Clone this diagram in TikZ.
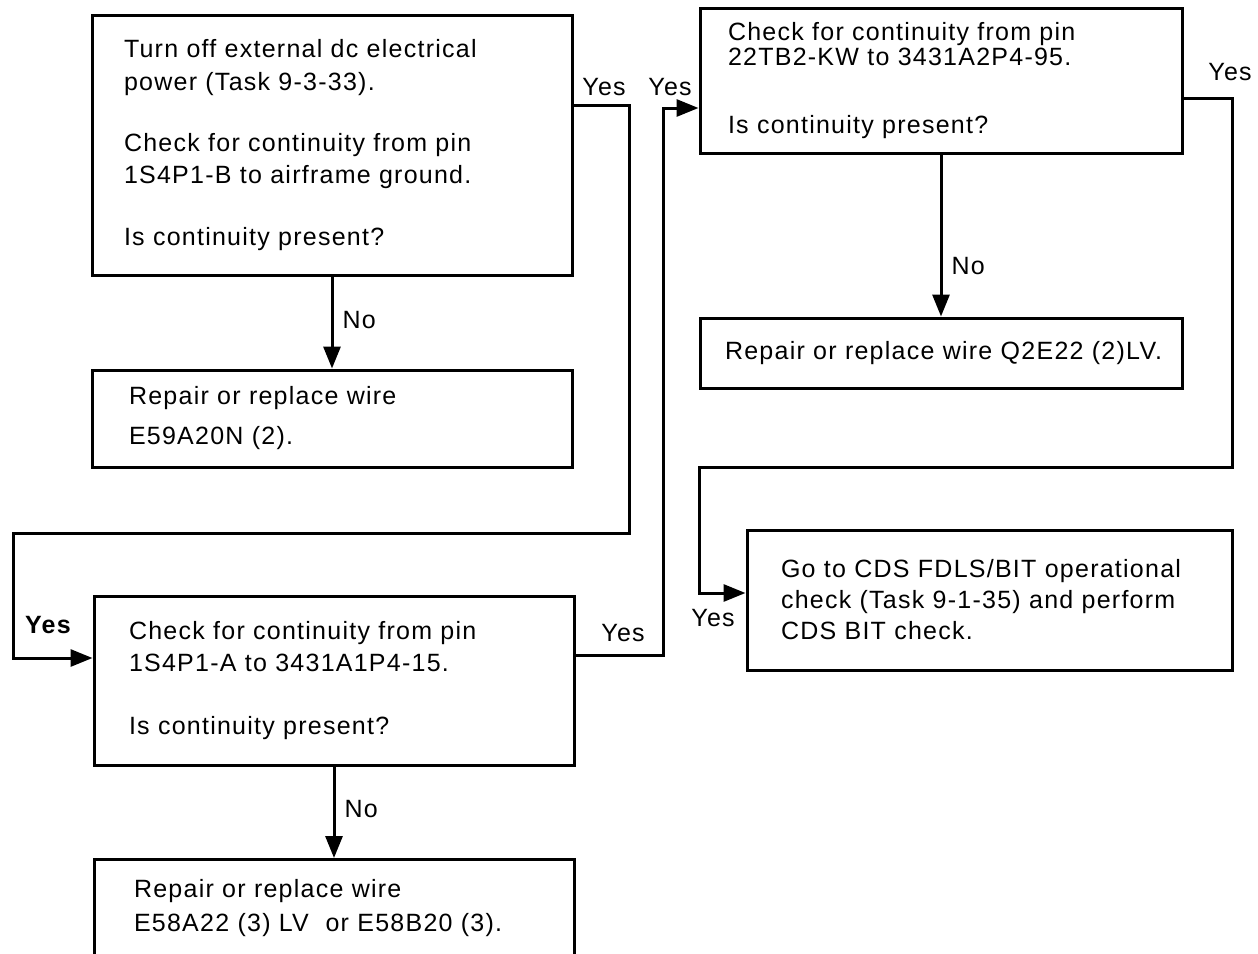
\documentclass[tikz,border=0pt]{standalone}
\usepackage{fontspec}
\setmainfont{Liberation Sans}[LetterSpace=5]
\usetikzlibrary{arrows.meta}
\newcommand{\diafont}{\fontsize{25}{31}\selectfont}
\begin{document}
\begin{tikzpicture}[x=1pt,y=-1pt,
  font=\diafont,
  box/.style={draw, line width=3pt, rectangle, inner ysep=2pt, align=left},
  conn/.style={line width=3pt},
  arr/.style={line width=3pt, -{Triangle[length=22pt,width=17pt]}},
  lbl/.style={inner sep=0pt}
]
\useasboundingbox (0,0) rectangle (1258,953);
\clip (0,0) rectangle (1258,953);

% boxes
\node[box, minimum width=480pt, minimum height=260pt, inner xsep=32pt, text width=416pt] (A) at (332,145)
  {\mbox{Turn off external dc electrical}\\[2pt]
   \mbox{power (Task 9-3-33).}\\[30pt]
   \mbox{Check for continuity from pin}\\[1pt]
   \mbox{1S4P1-B to airframe ground.}\\[31pt]
   \mbox{Is continuity present?}};

\node[box, minimum width=480pt, minimum height=97pt, inner xsep=37pt, text width=406pt] (B) at (332,418.5)
  {\mbox{Repair or replace wire}\\[9pt]
   \mbox{E59A20N (2).}};

\node[box, minimum width=480pt, minimum height=169pt, inner xsep=35pt, text width=410pt] (C) at (334,680.5)
  {\mbox{Check for continuity from pin}\\[1pt]
   \mbox{1S4P1-A to 3431A1P4-15.}\\[32pt]
   \mbox{Is continuity present?}};

\node[box, anchor=north, inner xsep=40pt, inner ysep=20pt, text width=400pt, text depth=120pt] (D) at (334,858)
  {\mbox{Repair or replace wire}\\[3pt]
   \mbox{E58A22 (3) LV\ \ or E58B20 (3).}};

\node[box, minimum width=482pt, minimum height=145pt, inner xsep=28pt, text width=426pt] (E) at (941,80.5)
  {\mbox{Check for continuity from pin}\\[-6pt]
   \mbox{22TB2-KW to 3431A2P4-95.}\\[37pt]
   \mbox{Is continuity present?}};

\node[box, minimum width=482pt, minimum height=70pt, inner xsep=25pt, text width=432pt] (F) at (941,353)
  {\mbox{Repair or replace wire Q2E22 (2)LV.}};

\node[box, minimum width=485pt, minimum height=140pt, inner xsep=34pt, text width=417pt] (G) at (989.5,600)
  {\mbox{Go to CDS FDLS/BIT operational}\\
   \mbox{check (Task 9-1-35) and perform}\\
   \mbox{CDS BIT check.}};

% No connectors
\draw[arr] (A.south) -- (B.north) node[lbl, pos=0.47, right=9pt] (nA) {No};
\draw[arr] (C.south) -- (D.north) node[lbl, pos=0.46, right=9pt] (nC) {No};
\draw[arr] (E.south) -- (F.north) node[lbl, pos=0.69, right=9pt] (nE) {No};

% Yes from A to C
\coordinate (a1) at (629,105);
\coordinate (a2) at (629,533);
\coordinate (a3) at (13,533);
\coordinate (a4) at (13,658);
\draw[arr] (A.east |- a1) -- (a1) -- (a2) -- (a3) -- (a4) -- (C.west |- a4);
\node[lbl] (yA) at (604,87) {Yes};
\node[lbl, font=\diafont\bfseries] (yA2) at (48,625) {Yes};

% Yes from C to E
\coordinate (c1) at (663,655);
\coordinate (c2) at (663,108);
\draw[arr] (C.east |- c1) -- (c1) -- (c2) -- (E.west |- c2);
\node[lbl] (yC) at (623,633) {Yes};
\node[lbl] (yC2) at (670,87) {Yes};

% Yes from E to G
\coordinate (e1) at (1232,98);
\coordinate (e2) at (1232,467);
\coordinate (e3) at (699,467);
\coordinate (e4) at (699,593);
\draw[arr] (E.east |- e1) -- (e1) -- (e2) -- (e3) -- (e4) -- (G.west |- e4);
\node[lbl] (yE) at (1230,72) {Yes};
\node[lbl] (yE2) at (713,618) {Yes};
\end{tikzpicture}
\end{document}
